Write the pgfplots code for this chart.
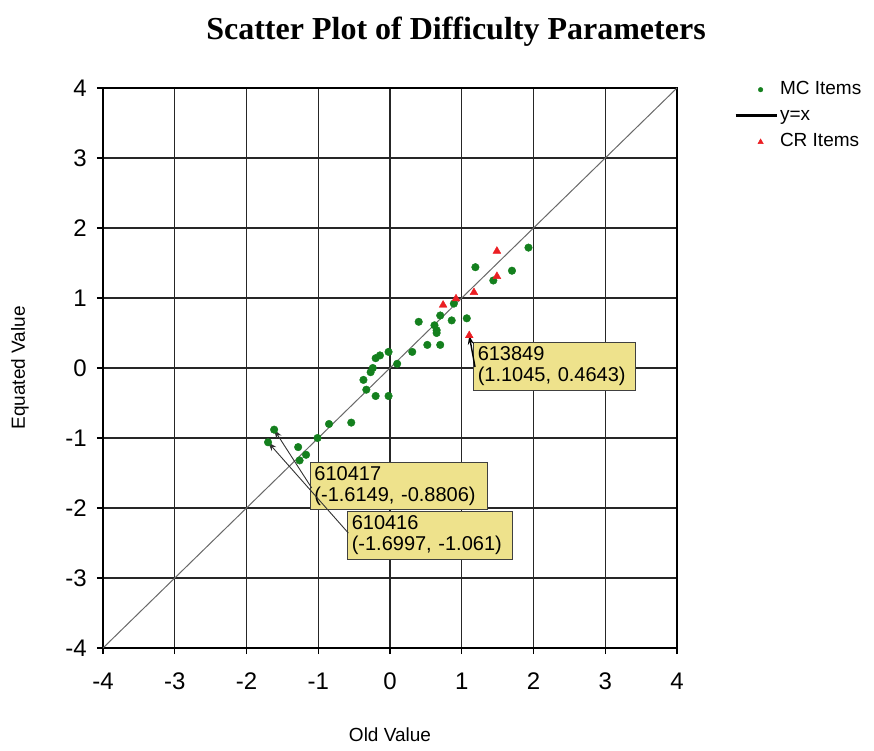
\documentclass[border=0pt]{standalone}
\usepackage{fontspec}
\setmainfont{Liberation Sans}
\newfontfamily\titlefont{Liberation Serif}
\usepackage{pgfplots}
\pgfplotsset{compat=1.18}
\usetikzlibrary{arrows.meta}
\definecolor{mcgreen}{RGB}{20,128,30}
\definecolor{crred}{RGB}{235,30,35}
\definecolor{tipyellow}{RGB}{238,226,140}
\definecolor{diag}{RGB}{105,105,105}
\begin{document}
\begin{tikzpicture}
\path[use as bounding box] (-103pt,-102pt) rectangle (771pt,648pt);
\begin{axis}[
  at={(0pt,0pt)}, anchor=south west,
  width=574pt, height=560pt, scale only axis,
  xmin=-4, xmax=4, ymin=-4, ymax=4,
  xtick={-4,-3,-2,-1,0,1,2,3,4},
  ytick={-4,-3,-2,-1,0,1,2,3,4},
  xticklabels={-4,-3,-2,-1,0,1,2,3,4},
  yticklabels={-4,-3,-2,-1,0,1,2,3,4},
  grid=major,
  major grid style={black!85, line width=1.1pt},
  axis line style={black, line width=1.2pt},
  tick align=outside, tick pos=left,
  major tick length=6pt,
  tick style={black, line width=1.1pt},
  xticklabel style={font=\fontsize{24}{24}\selectfont, anchor=center, inner sep=0pt, yshift=-27pt},
  yticklabel style={font=\fontsize{24}{24}\selectfont, anchor=east, inner sep=0pt, xshift=-10pt},
  xlabel={Old Value},
  ylabel={Equated Value},
  every axis x label/.style={at={([yshift=-87pt]axis description cs:0.5,0)}, anchor=center, font=\fontsize{19}{19}\selectfont},
  every axis y label/.style={at={([xshift=-83pt]axis description cs:0,0.5)}, anchor=center, rotate=90, font=\fontsize{19}{19}\selectfont},
  legend style={draw=none, fill=none, at={(axis description cs:1.0993,1.0179)}, anchor=north west,
    inner sep=0pt, row sep=3pt, font=\fontsize{19}{19}\selectfont,
    nodes={text height=14pt, text depth=5pt, inner xsep=2pt, inner ysep=2pt},
    /tikz/every even column/.append style={column sep=6pt}},
  legend cell align=left,
]
\addplot[only marks, mark=*, mark size=3.8pt, mcgreen, mark options={draw=mcgreen, fill=mcgreen},
  legend image code/.code={\path[draw=none, fill=none] (0pt,0pt) rectangle (41pt,0pt); \fill[mcgreen] (25pt,0pt) circle (2.3pt);}]
coordinates {
(1.93,1.72) (1.19,1.44) (1.70,1.39) (1.44,1.25) (0.89,0.92)
(0.70,0.75) (0.40,0.66) (0.86,0.68) (1.07,0.71) (0.62,0.61)
(0.65,0.54) (0.65,0.50) (0.52,0.33) (0.70,0.33) (0.31,0.23)
(-0.02,0.23) (-0.14,0.18) (-0.20,0.14) (0.10,0.06) (-0.24,0.00)
(-0.27,-0.06) (-0.37,-0.17) (-0.33,-0.31) (-0.20,-0.40) (-0.02,-0.40)
(-0.85,-0.80) (-0.54,-0.78) (-1.01,-1.00) (-1.6149,-0.8806) (-1.6997,-1.061)
(-1.28,-1.13) (-1.17,-1.24) (-1.26,-1.32)
};
\addlegendentry{MC Items}
\addplot[diag, line width=1pt,
  legend image code/.code={\draw[black, line width=2.8pt] (0pt,0pt) -- (41pt,0pt);}]
coordinates {(-4,-4) (4,4)};
\addlegendentry{y=x}
\addplot[only marks, mark=triangle*, mark size=4.5pt, crred, mark options={draw=crred, fill=crred},
  legend image code/.code={\path[draw=none, fill=none] (0pt,0pt) rectangle (41pt,0pt); \fill[crred] (22.3pt,-2pt) -- (27.7pt,-2pt) -- (25pt,2.8pt) -- cycle;}]
coordinates {
(1.49,1.67) (1.49,1.31) (1.17,1.08) (0.92,0.99) (0.74,0.90) (1.1045,0.4643)
};
\addlegendentry{CR Items}
% tooltips
\node[draw=black!75, line width=0.9pt, fill=tipyellow, anchor=north west, inner xsep=4pt, inner ysep=0pt,
  text width=154pt, minimum height=48pt, align=left, font=\fontsize{20}{21}\selectfont]
  at (axis cs:1.161,0.376) {613849\\(1.1045, 0.4643)};
\node[draw=black!75, line width=0.9pt, fill=tipyellow, anchor=north west, inner xsep=4pt, inner ysep=0pt,
  text width=169pt, minimum height=47pt, align=left, font=\fontsize{20}{21}\selectfont]
  at (axis cs:-1.115,-1.339) {610417\\(-1.6149, -0.8806)};
\node[draw=black!75, line width=0.9pt, fill=tipyellow, anchor=north west, inner xsep=4pt, inner ysep=0pt,
  text width=157pt, minimum height=48pt, align=left, font=\fontsize{20}{21}\selectfont]
  at (axis cs:-0.595,-2.039) {610416\\(-1.6997, -1.061)};
\draw[black, line width=1.4pt, -{Stealth[length=9pt,width=6pt]}] (axis cs:1.185,0.014) -- (axis cs:1.1045,0.4643);
\draw[black!80, line width=0.9pt, -{Stealth[length=9pt,width=6pt]}] (axis cs:-1.091,-1.714) -- (axis cs:-1.6149,-0.8806);
\draw[black!80, line width=0.9pt, -{Stealth[length=9pt,width=6pt]}] (axis cs:-0.581,-2.357) -- (axis cs:-1.6997,-1.061);
\end{axis}
\node[font=\titlefont\bfseries\fontsize{32}{32}\selectfont, anchor=center] at (353pt,616pt) {Scatter Plot of Difficulty Parameters};
\end{tikzpicture}
\end{document}
